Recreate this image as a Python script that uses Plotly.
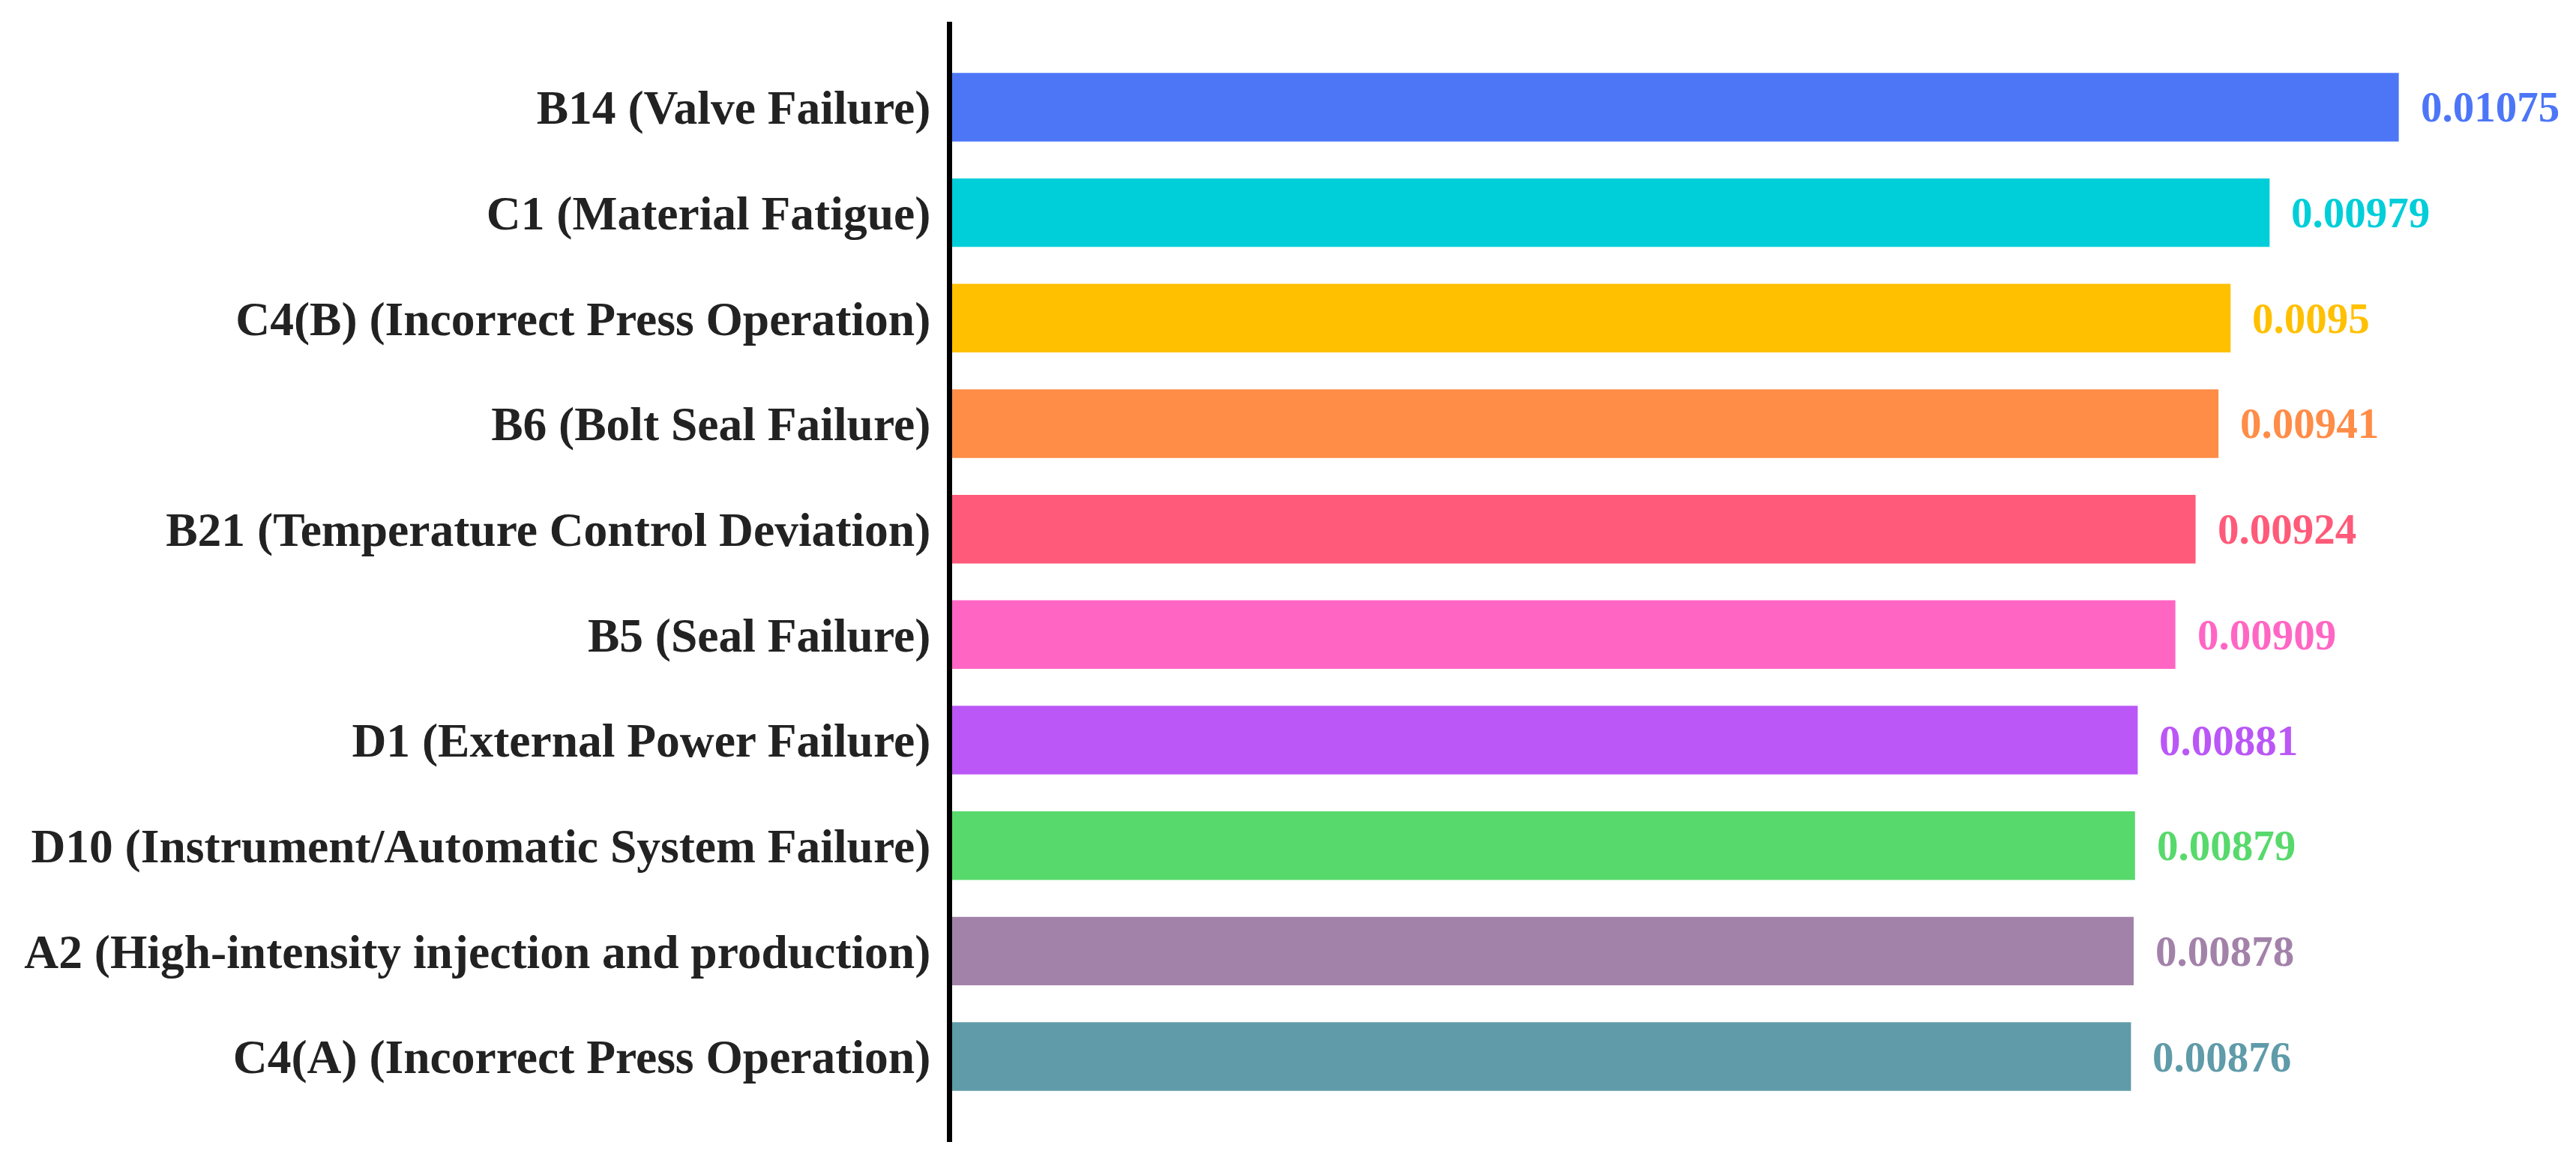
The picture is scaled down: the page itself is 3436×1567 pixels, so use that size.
import plotly.graph_objects as go

categories = [
    "B14 (Valve Failure)",
    "C1 (Material Fatigue)",
    "C4(B) (Incorrect Press Operation)",
    "B6 (Bolt Seal Failure)",
    "B21 (Temperature Control Deviation)",
    "B5 (Seal Failure)",
    "D1 (External Power Failure)",
    "D10 (Instrument/Automatic System Failure)",
    "A2 (High-intensity injection and production)",
    "C4(A) (Incorrect Press Operation)",
]
values = [0.01075, 0.00979, 0.0095, 0.00941, 0.00924, 0.00909, 0.00881, 0.00879, 0.00878, 0.00876]
value_labels = ["0.01075", "0.00979", "0.0095", "0.00941", "0.00924", "0.00909", "0.00881", "0.00879", "0.00878", "0.00876"]
colors = ["#4D76F7", "#00CED9", "#FFC000", "#FF8C47", "#FF5A79",
          "#FF66C4", "#BA57F6", "#57D96B", "#A382AA", "#5F9BA9"]

FONT = "Liberation Serif"

fig = go.Figure()
fig.add_trace(go.Bar(
    x=values,
    y=categories,
    orientation="h",
    marker=dict(color=colors, line=dict(width=0)),
    width=0.65,
    hoverinfo="x+y",
))

for c, v, t, col in zip(categories, values, value_labels, colors):
    fig.add_annotation(
        x=v, y=c, text="<b>%s</b>" % t, showarrow=False,
        xanchor="left", yanchor="middle", xshift=27,
        font=dict(family=FONT, size=57, color=col),
    )

fig.update_layout(
    width=3436,
    height=1567,
    margin=dict(l=1270, r=12, t=29, b=44),
    paper_bgcolor="white",
    plot_bgcolor="white",
    showlegend=False,
    font=dict(family=FONT),
    xaxis=dict(
        range=[0, 0.0120],
        visible=False,
        showgrid=False,
        zeroline=False,
    ),
    yaxis=dict(
        type="category",
        categoryorder="array",
        categoryarray=categories,
        range=[9.81, -0.81],
        showgrid=False,
        zeroline=False,
        showline=True,
        linecolor="black",
        linewidth=7,
        ticks="",
        ticklabelstandoff=9,
        tickfont=dict(family=FONT, size=63.5, color="#222222"),
        tickvals=categories,
        ticktext=["<b>%s</b>" % c for c in categories],
    ),
)

fig.write_html(
    "out.html",
    config={"displayModeBar": False},
    post_script="document.body.style.margin='0';document.body.style.overflow='hidden';",
)
